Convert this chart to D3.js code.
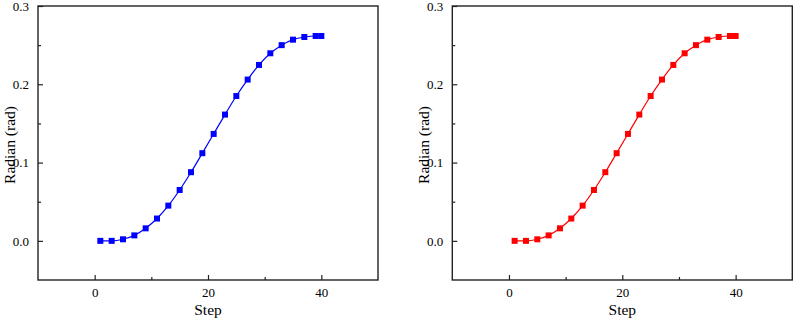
<!DOCTYPE html>
<html>
<head>
<meta charset="utf-8">
<script src="https://cdn.jsdelivr.net/npm/d3@7"></script>
<style>
  body { margin: 0; background: #fff; }
  svg text { font-family: "Liberation Serif", "Times New Roman", serif; fill: #000; }
</style>
</head>
<body>
<div id="chart"></div>
<script>
// step index of each sample
var steps = [1, 3, 5, 7, 9, 11, 13, 15, 17, 19, 21, 23, 25, 27, 29, 31, 33, 35, 37, 39, 40];
// radian values (both panels show the same curve)
var radianLeft = [0, 0, 0.002, 0.007, 0.016, 0.0285, 0.045, 0.065, 0.0877, 0.112, 0.1366,
    0.1613, 0.185, 0.206, 0.2247, 0.2396, 0.250, 0.257, 0.2604, 0.2617, 0.2617];
var radianRight = [0, 0, 0.002, 0.007, 0.016, 0.0285, 0.045, 0.065, 0.0877, 0.112, 0.1366,
    0.1613, 0.185, 0.206, 0.2247, 0.2396, 0.250, 0.257, 0.2604, 0.2617, 0.2617];
var xTicks = [0, 20, 40];
var yTicks = [0.0, 0.1, 0.2, 0.3];

var serif = "'Liberation Serif', 'Times New Roman', serif";

var svg = d3.select("#chart")
    .append("svg")
    .attr("width", 796)
    .attr("height", 322);

drawPanel(38, radianLeft, "#0000ff");
drawPanel(452.3, radianRight, "#ff0000");

function drawPanel(left, values, color) {
    var width = 340, height = 274, top = 6;

    var g = svg.append("g")
        .attr("transform", "translate(" + left + "," + top + ")");

    var x = d3.scaleLinear().domain([-10, 50]).range([0, width]);
    var y = d3.scaleLinear().domain([-0.05, 0.3]).range([height, 0]);

    // bottom axis, ticks pointing inwards
    g.append("g")
        .attr("transform", "translate(0," + height + ")")
        .call(d3.axisBottom(x).tickValues(xTicks).tickSize(-5).tickPadding(8).tickFormat(d3.format("d")));
    g.append("g")
        .attr("transform", "translate(0," + height + ")")
        .call(d3.axisBottom(x).tickValues([10, 30]).tickSize(-3).tickFormat(""));

    g.append("g")
        .call(d3.axisLeft(y).tickValues(yTicks).tickSize(-5).tickPadding(9).tickFormat(d3.format(".1f")));
    g.append("g")
        .call(d3.axisLeft(y).tickValues([0.05, 0.15, 0.25]).tickSize(-3).tickFormat(""));

    g.selectAll(".domain").remove();
    g.selectAll("g").attr("font-family", serif);
    g.selectAll(".tick line").attr("stroke", "#222").attr("stroke-width", 1.2);
    g.selectAll(".tick text").attr("font-family", serif).style("font-size", "13px");

    // frame
    g.append("rect")
        .attr("width", width)
        .attr("height", height)
        .attr("fill", "none")
        .attr("stroke", "#222")
        .attr("stroke-width", 1.4);

    var pts = steps.map(function (s, i) { return [s, values[i]]; });

    g.append("path")
        .datum(pts)
        .attr("fill", "none")
        .attr("stroke", color)
        .attr("stroke-width", 1.2)
        .attr("d", d3.line().curve(d3.curveMonotoneX)
            .x(function (d) { return x(d[0]); })
            .y(function (d) { return y(d[1]); }));

    g.selectAll(".marker")
        .data(pts)
        .enter()
        .append("rect")
        .attr("class", "marker")
        .attr("x", function (d) { return x(d[0]) - 3; })
        .attr("y", function (d) { return y(d[1]) - 3; })
        .attr("width", 6)
        .attr("height", 6)
        .attr("fill", color);

    g.append("text")
        .attr("x", width / 2)
        .attr("y", 309)
        .attr("text-anchor", "middle")
        .attr("font-family", serif)
        .style("font-size", "15.5px")
        .text("Step");

    g.append("text")
        .attr("transform", "translate(-23," + (height / 2 + 2) + ")rotate(-90)")
        .attr("text-anchor", "middle")
        .attr("font-family", serif)
        .style("font-size", "15.5px")
        .text("Radian (rad)");
}
</script>
</body>
</html>
